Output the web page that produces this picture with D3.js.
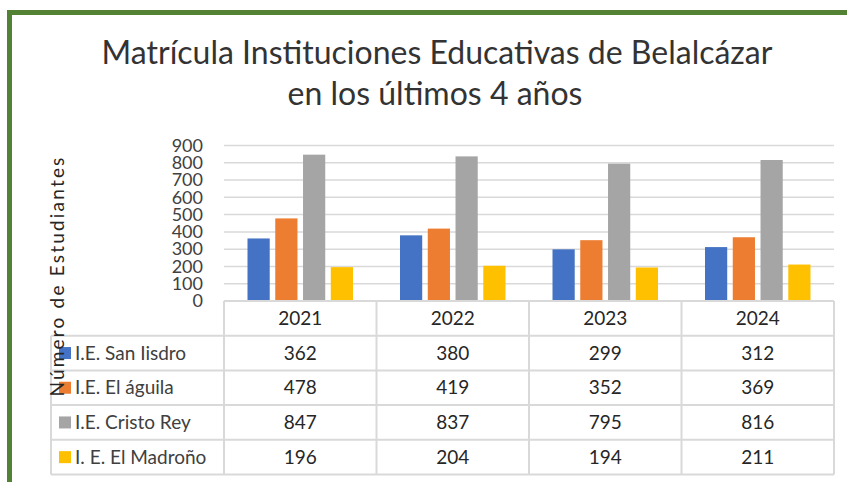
<!DOCTYPE html>
<html>
<head>
<meta charset="utf-8">
<script src="https://cdn.jsdelivr.net/npm/d3@7"></script>
<style>
  body { margin: 0; background: #fff; }
  text { font-family: Lato, "Open Sans", sans-serif; }
</style>
</head>
<body>
<div id="chart"></div>
<script>
// data
var years = ["2021", "2022", "2023", "2024"];
var schools = ["I.E. San Iisdro", "I.E. El águila", "I.E. Cristo Rey", "I. E. El Madroño"];
var sanIsidro = [362, 380, 299, 312];
var elAguila = [478, 419, 352, 369];
var cristoRey = [847, 837, 795, 816];
var elMadrono = [196, 204, 194, 211];
var yTicks = [0, 100, 200, 300, 400, 500, 600, 700, 800, 900];

var seriesValues = [sanIsidro, elAguila, cristoRey, elMadrono];
var colors = ["#4472C4", "#ED7D31", "#A5A5A5", "#FFC000"];

var W = 847, H = 482;

var svg = d3.select("#chart")
  .append("svg")
    .attr("width", W)
    .attr("height", H);

// green frame (left + top visible)
svg.append("rect")
  .attr("x", 9.5).attr("y", 12.5)
  .attr("width", W).attr("height", H)
  .attr("fill", "none")
  .attr("stroke", "#548235")
  .attr("stroke-width", 5);

// title
svg.append("text")
  .attr("x", 437).attr("y", 64)
  .attr("text-anchor", "middle")
  .attr("font-size", 32)
  .attr("fill", "#333")
  .text("Matrícula Instituciones Educativas de Belalcázar");
svg.append("text")
  .attr("x", 435).attr("y", 105)
  .attr("text-anchor", "middle")
  .attr("font-size", 32)
  .attr("fill", "#333")
  .text("en los últimos 4 años");

var plotLeft = 224, plotRight = 834, plotTop = 145.5, base = 301;
var rowH = 34.7, labelLeft = 51;

var x0 = d3.scaleBand()
  .domain(years)
  .range([plotLeft, plotRight]);

var x1 = d3.scaleBand()
  .domain(d3.range(schools.length))
  .range([23.5, x0.bandwidth() - 23.5])
  .paddingInner(0.2);

var y = d3.scaleLinear()
  .domain([0, 900])
  .range([base, plotTop]);

// gridlines
svg.append("g")
  .selectAll("line")
  .data(yTicks.slice(1))
  .enter()
  .append("line")
    .attr("x1", plotLeft).attr("x2", plotRight)
    .attr("y1", function(d) { return y(d); })
    .attr("y2", function(d) { return y(d); })
    .attr("stroke", "#d9d9d9")
    .attr("stroke-width", 1.5);

// y axis labels
var yAxis = svg.append("g")
  .attr("transform", "translate(" + (plotLeft - 18) + ",0)")
  .call(d3.axisLeft(y).tickValues(yTicks).tickSize(0).tickPadding(3));
yAxis.select(".domain").remove();
yAxis.selectAll("text")
  .attr("font-size", 18)
  .attr("font-family", "Lato, sans-serif")
  .attr("fill", "#404040");

// bars
var groups = svg.append("g")
  .selectAll("g")
  .data(years)
  .enter()
  .append("g")
    .attr("transform", function(d) { return "translate(" + x0(d) + ",0)"; });

groups.selectAll("rect")
  .data(function(d, i) {
    return seriesValues.map(function(s, k) { return {k: k, value: s[i]}; });
  })
  .enter()
  .append("rect")
    .attr("x", function(d) { return x1(d.k); })
    .attr("y", function(d) { return y(d.value); })
    .attr("width", x1.bandwidth())
    .attr("height", function(d) { return base - y(d.value); })
    .attr("fill", function(d) { return colors[d.k]; });

// data table
var table = svg.append("g");
var border = "#d9d9d9";

// horizontal lines
table.append("line")
  .attr("x1", plotLeft).attr("x2", plotRight)
  .attr("y1", base).attr("y2", base)
  .attr("stroke", border).attr("stroke-width", 2);
d3.range(1, schools.length + 2).forEach(function(r) {
  table.append("line")
    .attr("x1", labelLeft).attr("x2", plotRight)
    .attr("y1", base + r * rowH).attr("y2", base + r * rowH)
    .attr("stroke", border).attr("stroke-width", 2);
});

// vertical lines
years.forEach(function(yr) {
  table.append("line")
    .attr("x1", x0(yr)).attr("x2", x0(yr))
    .attr("y1", base).attr("y2", base + rowH * (schools.length + 1))
    .attr("stroke", border).attr("stroke-width", 2);
});
table.append("line")
  .attr("x1", plotRight).attr("x2", plotRight)
  .attr("y1", base).attr("y2", base + rowH * (schools.length + 1))
  .attr("stroke", border).attr("stroke-width", 2);
table.append("line")
  .attr("x1", labelLeft).attr("x2", labelLeft)
  .attr("y1", base + rowH).attr("y2", base + rowH * (schools.length + 1))
  .attr("stroke", border).attr("stroke-width", 2);

// year header
table.selectAll(".yr")
  .data(years)
  .enter()
  .append("text")
    .attr("x", function(d) { return x0(d) + x0.bandwidth() / 2; })
    .attr("y", base + rowH / 2)
    .attr("dy", "0.35em")
    .attr("text-anchor", "middle")
    .attr("font-size", 19)
    .attr("fill", "#262626")
    .text(function(d) { return d; });

// rows
schools.forEach(function(name, k) {
  var cy = base + rowH * (k + 1.5);
  table.append("rect")
    .attr("x", 59).attr("y", cy - 6)
    .attr("width", 12).attr("height", 12)
    .attr("fill", colors[k]);
  table.append("text")
    .attr("x", 75).attr("y", cy)
    .attr("dy", "0.35em")
    .attr("font-size", 19)
    .attr("fill", "#404040")
    .text(name);
  table.selectAll(".v" + k)
    .data(seriesValues[k])
    .enter()
    .append("text")
      .attr("x", function(d, i) { return x0(years[i]) + x0.bandwidth() / 2; })
      .attr("y", cy)
      .attr("dy", "0.35em")
      .attr("text-anchor", "middle")
      .attr("font-size", 19)
      .attr("fill", "#262626")
      .text(function(d) { return d; });
});

// y axis title
svg.append("text")
  .attr("transform", "translate(64,276) rotate(-90)")
  .attr("text-anchor", "middle")
  .attr("font-size", 19)
  .attr("letter-spacing", 2.2)
  .attr("fill", "#262626")
  .text("Número de Estudiantes");
</script>
</body>
</html>
